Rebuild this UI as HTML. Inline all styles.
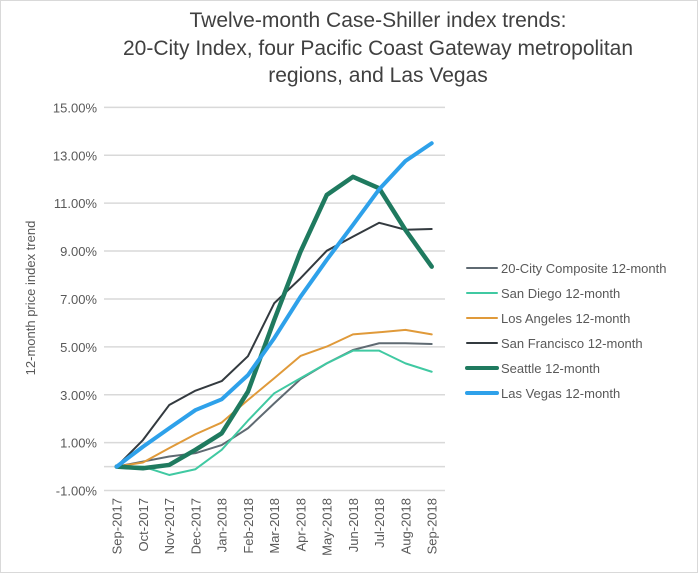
<!DOCTYPE html>
<html><head><meta charset="utf-8"><style>
body{margin:0;background:#fff;}
svg{display:block;font-family:"Liberation Sans",sans-serif;}
</style></head><body>
<svg id="chart" width="698" height="573">
<rect x="0.5" y="0.5" width="697" height="572" fill="#fff" stroke="#d9d9d9"/>
<g fill="#404040" font-size="21" text-anchor="middle">
<text x="378" y="27">Twelve-month Case-Shiller index trends:</text>
<text x="378" y="55">20-City Index, four Pacific Coast Gateway metropolitan</text>
<text x="378" y="82">regions, and Las Vegas</text>
</g>
<text transform="translate(35,298) rotate(-90)" text-anchor="middle" font-size="13" fill="#595959">12-month price index trend</text>
<g id="grid"></g><g id="ylabels"></g><g id="xlabels"></g><g id="lines"></g><g id="legend"></g>
</svg>
<script>
const categories=["Sep-2017","Oct-2017","Nov-2017","Dec-2017","Jan-2018","Feb-2018","Mar-2018","Apr-2018","May-2018","Jun-2018","Jul-2018","Aug-2018","Sep-2018"];
const yTicks=[-1,1,3,5,7,9,11,13,15];
const seriesNames=["20-City Composite 12-month","San Diego 12-month","Los Angeles 12-month","San Francisco 12-month","Seattle 12-month","Las Vegas 12-month"];
const composite=[0,0.21,0.42,0.56,0.90,1.60,2.64,3.65,4.31,4.87,5.15,5.15,5.12];
const sanDiego=[0,0,-0.35,-0.11,0.70,1.92,3.06,3.69,4.31,4.84,4.84,4.31,3.96];
const losAngeles=[0,0.17,0.77,1.35,1.84,2.78,3.69,4.62,5.01,5.52,5.61,5.71,5.52];
const sanFrancisco=[0,1.11,2.57,3.17,3.57,4.61,6.82,7.86,9.01,9.60,10.18,9.89,9.92];
const seattle=[0,-0.07,0.07,0.70,1.39,3.13,6.12,8.97,11.34,12.10,11.62,9.88,8.35];
const lasVegas=[0,0.83,1.60,2.36,2.81,3.82,5.36,7.09,8.63,10.09,11.58,12.76,13.50];
const allSeries=[composite,sanDiego,losAngeles,sanFrancisco,seattle,lasVegas];
const colors=["#5f6a72","#40c9a2","#e09a3a","#333a3f","#1f7a5f","#2ea1ea"];
const widths=[2,2,2,2,4.5,4];
const NS="http://www.w3.org/2000/svg";
function y(v){return 466.6-v*23.95;}
function x(i){return 116.7+i*26.25;}
function mk(tag,attrs,parent){const e=document.createElementNS(NS,tag);for(const k in attrs)e.setAttribute(k,attrs[k]);document.getElementById(parent).appendChild(e);return e;}
yTicks.forEach(t=>{
  const l=mk("line",{x1:104,x2:445,y1:y(t),y2:y(t),stroke:"#d9d9d9","stroke-width":1.5},"grid");
  
  
  const tx=mk("text",{x:97,y:y(t)+5,"text-anchor":"end","font-size":13,fill:"#595959"},"ylabels");
  tx.textContent=t.toFixed(2)+"%";
  
  
});
const zl=mk("line",{x1:104,x2:445,y1:y(0),y2:y(0),stroke:"#d9d9d9","stroke-width":1.5},"grid");


categories.forEach((c,i)=>{
  const tx=mk("text",{transform:`translate(${x(i)+5},498) rotate(-90)`,"text-anchor":"end","font-size":13,fill:"#595959"},"xlabels");
  tx.textContent=c;
  
  
});
allSeries.forEach((s,k)=>{
  const p=mk("polyline",{points:s.map((v,i)=>x(i)+","+y(v)).join(" "),fill:"none",stroke:colors[k],"stroke-width":widths[k],"stroke-linejoin":"round","stroke-linecap":"round"},"lines");
  
  
  const ly=268+k*25;
  const g=mk("g",{},"legend");
  
  
  const ln=document.createElementNS(NS,"line");
  [["x1",467],["x2",497],["y1",ly],["y2",ly],["stroke",colors[k]],["stroke-width",widths[k]>3?4:2],["stroke-linecap","round"]].forEach(a=>ln.setAttribute(a[0],a[1]));
  g.appendChild(ln);
  const tx=document.createElementNS(NS,"text");
  tx.setAttribute("x",501);tx.setAttribute("y",ly+5);tx.setAttribute("font-size",13);tx.setAttribute("fill","#595959");
  tx.textContent=seriesNames[k];
  g.appendChild(tx);
});
</script>
</body></html>
